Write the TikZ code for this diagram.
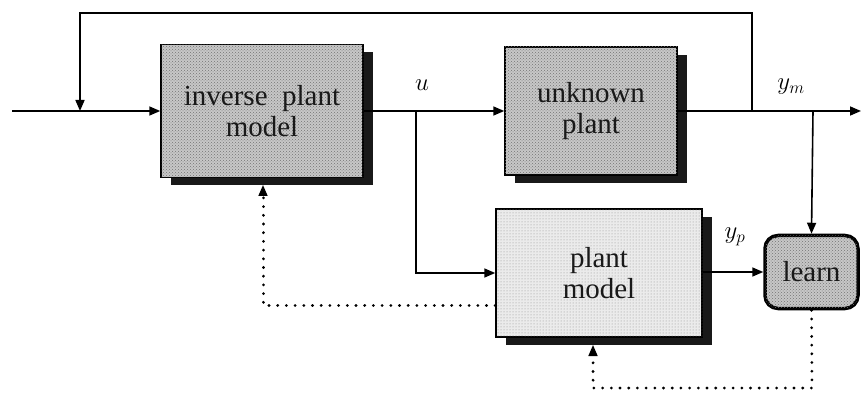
\documentclass[tikz,border=0pt]{standalone}
\usepackage{fontspec}
\setmainfont{Liberation Serif}
\usetikzlibrary{arrows.meta,shadows,patterns}
\begin{document}
\begin{tikzpicture}[x=1pt,y=-1pt,
  line width=1.6pt,
  tip/.style={-{Triangle[length=11pt,width=9pt]}},
  dotline/.style={line width=3pt,dash pattern=on 0.1pt off 8.6pt,line cap=round},
  blockbase/.style={draw=black,line width=1.5pt,align=center,font=\fontsize{29}{31}\selectfont,
    text=black!90,inner sep=0pt,
    drop shadow={shadow xshift=10pt,shadow yshift=-8pt,fill=black!90,opacity=1}},
  darkblock/.style={blockbase,fill=black!22,postaction={pattern=crosshatch dots,pattern color=black!55}},
  lightblock/.style={blockbase,fill=black!8,postaction={pattern=dots,pattern color=black!45}},
  learnbox/.style={draw=black,line width=3.5pt,rounded corners=13pt,align=center,
    font=\fontsize{29}{31}\selectfont,text=black!90,inner sep=0pt,
    fill=black!22,postaction={pattern=crosshatch dots,pattern color=black!55}},
  sig/.style={font=\fontsize{25}{28}\selectfont}]
\useasboundingbox (0,0) rectangle (863,393);

% blocks
\node[darkblock,minimum width=202pt,minimum height=133pt] (inv) at (262,111) {inverse\ \ plant\\model};
\node[darkblock,minimum width=172pt,minimum height=128pt] (plant) at (591,111) {unknown\\plant};
\node[lightblock,minimum width=206pt,minimum height=128pt] (pm) at (599,273) {plant\\model};
\node[learnbox,minimum width=93pt,minimum height=73pt] (learn) at (811.5,272) {learn};

% junction points and free ends
\coordinate (in) at (12,111);
\coordinate (fbin) at (80,111);
\coordinate (ujoin) at (416,111);
\coordinate (fbout) at (752,111);
\coordinate (ymjoin) at (813,111);
\coordinate (out) at (861,111);

% signal labels
\node[sig] (ulabel) at (422,85) {$u$};
\node[sig] (ymlabel) at (791,87) {$y_m$};
\node[sig] (yplabel) at (735,237) {$y_p$};

% main signal path
\draw[tip] (in) -- (inv.west);
\draw[tip] (inv.east) -- (plant.west);
\draw[tip] (plant.east) -- (out);

% outer feedback loop
\draw[tip] (fbout) -- (752,13) -- (80,13) -- (fbin);

% branches to the plant model and the learning block
\draw[tip] (ujoin) |- (pm.west);
\draw[tip] (ymjoin) -- (learn.north);
\draw[tip] (pm.east |- learn.west) -- (learn.west);

% parameter updates (dotted)
\coordinate (pmfoot) at (593,345);
\coordinate (invfoot) at (263,185);
\draw[dotline] (learn.south) -- (812,388) -- (593,388) -- (593,354);
\draw[tip] (593,353) -- (pmfoot);
\draw[dotline] (pm.west |- 0,305) -- (263,305) -- (263,194);
\draw[tip] (263,193) -- (invfoot);
\end{tikzpicture}
\end{document}
